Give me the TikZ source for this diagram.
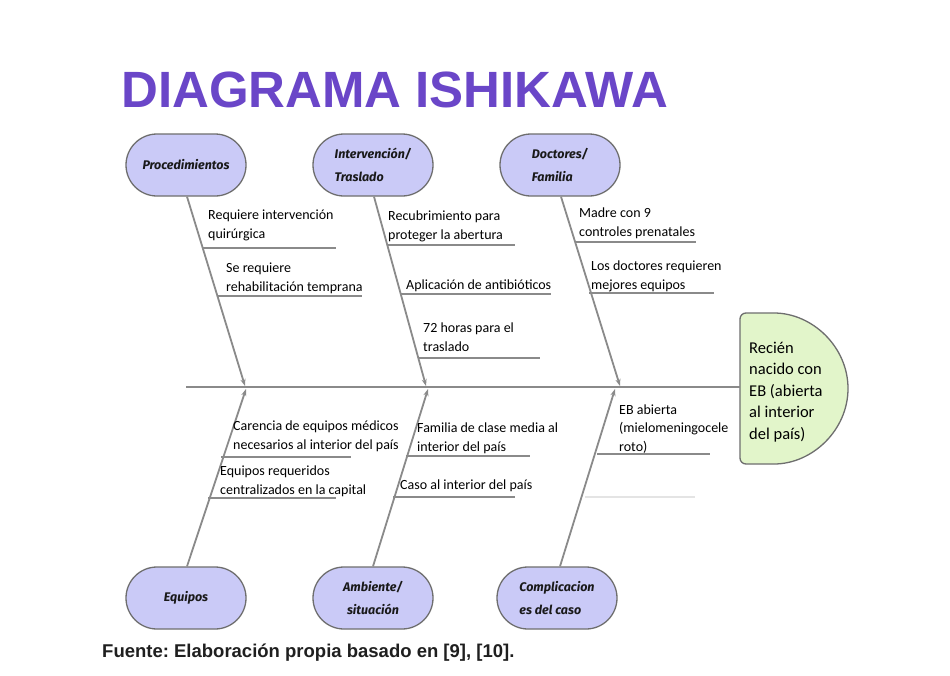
\documentclass[tikz,border=0pt]{standalone}
\usepackage{fontspec}
\setmainfont{Carlito}
\newfontfamily\titlefont{Liberation Sans}
\newfontfamily\handfont{Fira Sans}
\usetikzlibrary{arrows.meta,shapes.misc}
\definecolor{boxfill}{RGB}{202,202,247}
\definecolor{headfill}{RGB}{226,245,202}
\definecolor{edgegray}{RGB}{110,110,110}
\definecolor{bonegray}{RGB}{138,138,138}
\definecolor{titlepurple}{RGB}{106,70,200}
\definecolor{faint}{RGB}{228,228,228}
\frenchspacing
\begin{document}
\begin{tikzpicture}[x=1pt,y=-1pt,
  cat/.style={rounded rectangle, draw=edgegray, fill=boxfill, line width=1.3pt,
    minimum width=120pt, minimum height=62pt, inner sep=0pt, align=left,
    font=\handfont\itshape\bfseries\fontsize{12.5}{23}\selectfont, text=black!90},
  cause/.style={anchor=base west, align=left, inner sep=0pt,
    font=\fontsize{14}{18.5}\selectfont},
  bone/.style={draw=bonegray, line width=1.8pt, -{Stealth[length=7pt,width=5pt]}},
  sub/.style={draw=bonegray, line width=1.6pt},
  spine/.style={draw=bonegray, line width=1.8pt}]
\useasboundingbox[fill=white] (0,0) rectangle (950,675);

% title and source
\node[anchor=base west, inner sep=0pt, text=titlepurple,
  font=\titlefont\bfseries\fontsize{51}{51}\selectfont] (title) at (121,107) {DIAGRAMA ISHIKAWA};
\node[anchor=base west, inner sep=0pt, text=black!88,
  font=\titlefont\bfseries\fontsize{18.5}{20}\selectfont] (src) at (102,657)
  {Fuente: Elaboración propia basado en [9], [10].};

% head
\draw[draw=edgegray, fill=headfill, line width=1.3pt, rounded corners=6pt]
  (768,313) arc[start angle=90, end angle=-90, x radius=80pt, y radius=75.5pt]
  -- (740,464) -- (740,313) -- cycle;
\node[anchor=base west, align=left, inner sep=0pt,
  font=\fontsize{16.5}{21.5}\selectfont] (head) at (749,439)
  {Recién\\nacido con\\EB (abierta\\al interior\\del país)};

% spine
\coordinate (spL) at (186,387);
\coordinate (spR) at (740,387);
\draw[spine] (spL) -- (spR);

% category boxes
\node[cat] (proc) at (186,165) {Procedimientos};
\node[cat] (inter) at (373,165) {Intervención/\\Traslado};
\node[cat] (doct) at (560,165) {Doctores/\\Familia};
\node[cat] (equi) at (186,598) {Equipos};
\node[cat, align=center] (amb) at (373,598) {Ambiente/\\situación};
\node[cat] (comp) at (557,598) {Complicacion\\es del caso};

% spine points
\coordinate (t1) at (245,386);
\coordinate (t2) at (426,386);
\coordinate (t3) at (620,386);
\coordinate (b1) at (246,389);
\coordinate (b2) at (428,389);
\coordinate (b3) at (615,389);

\draw[bone] (proc.south) ++(1,0) -- (t1);
\draw[bone] (inter.south) ++(1,0) -- (t2);
\draw[bone] (doct.south) ++(1,0) -- (t3);
\draw[bone] (equi.north) ++(1,0) -- (b1);
\draw[bone] (amb.north) -- (b2);
\draw[bone] (comp.north) ++(3,0) -- (b3);

% sub-causes, top
\draw[sub] (203,248) -- (336,248);
\node[cause] (c1) at (208,238) {Requiere intervención\\quirúrgica};
\draw[sub] (218,296) -- (362,296);
\node[cause] (c2) at (226,291) {Se requiere\\rehabilitación temprana};

\draw[sub] (388,245) -- (515,245);
\node[cause] (c3) at (388,239) {Recubrimiento para\\proteger la abertura};
\draw[sub] (401,294) -- (551,294);
\node[cause] (c4) at (406,289) {Aplicación de antibióticos};
\draw[sub] (418,358) -- (540,358);
\node[cause] (c5) at (423,351) {72 horas para el\\traslado};

\draw[sub] (576,242) -- (696,242);
\node[cause] (c6) at (579,236) {Madre con 9\\controles prenatales};
\draw[sub] (589,293) -- (714,293);
\node[cause] (c7) at (591,289) {Los doctores requieren\\mejores equipos};

% sub-causes, bottom
\draw[sub] (221,457) -- (351,457);
\node[cause] (c8) at (233,449) {Carencia de equipos médicos\\necesarios al interior del país};
\draw[sub] (208,498) -- (336,498);
\node[cause] (c9) at (220,494) {Equipos requeridos\\centralizados en la capital};

\draw[sub] (406,456) -- (530,456);
\node[cause] (c10) at (417,451) {Familia de clase media al\\interior del país};
\draw[sub] (393,497) -- (515,497);
\node[cause] (c11) at (400,489) {Caso al interior del país};

\draw[sub] (597,454) -- (710,454);
\node[cause] (c12) at (619,451) {EB abierta\\(mielomeningocele\\roto)};
\draw[draw=faint, line width=1.2pt] (585,497) -- (695,497);
\end{tikzpicture}
\end{document}
